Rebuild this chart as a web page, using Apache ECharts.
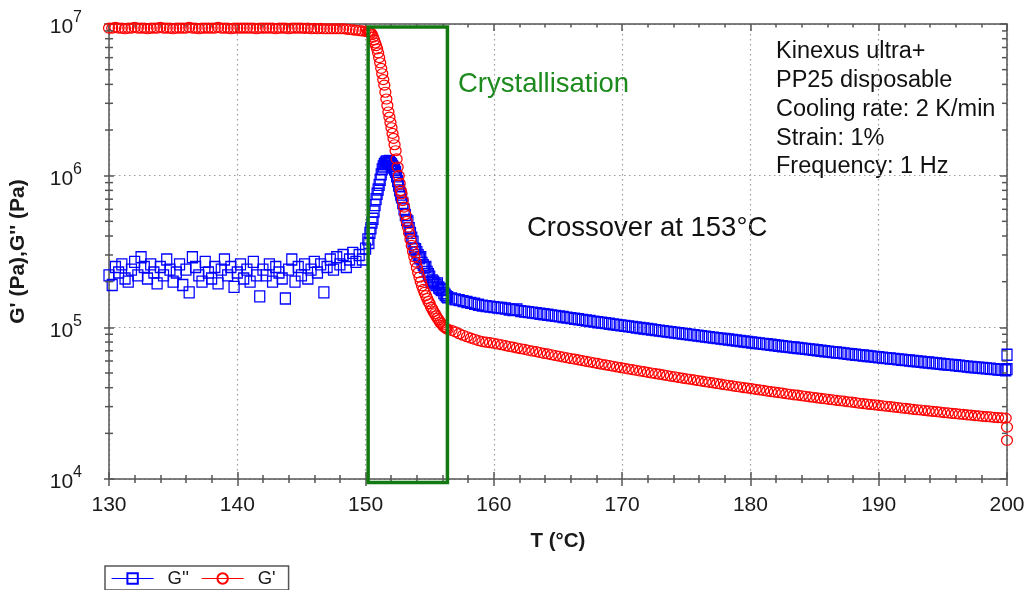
<!DOCTYPE html>
<html>
<head>
<meta charset="utf-8">
<title>Oscillatory cooling ramp – PP25</title>
<script src="https://cdn.jsdelivr.net/npm/echarts@6/dist/echarts.min.js"></script>
<style>
  html, body { margin: 0; padding: 0; background: #fff; }
  #chart { width: 1031px; height: 590px; }
</style>
</head>
<body>
<div id="chart"></div>
<script>
// Temperature of each measured point (°C); the run cools from 200 °C down to 130 °C.
const temperatureC = [
  130.0,130.25,130.5,130.75,131.0,131.25,131.5,131.75,132.0,132.25,
  132.5,132.75,133.0,133.25,133.5,133.75,134.0,134.25,134.5,134.75,
  135.0,135.25,135.5,135.75,136.0,136.25,136.5,136.75,137.0,137.25,
  137.5,137.75,138.0,138.25,138.5,138.75,139.0,139.25,139.5,139.75,
  140.0,140.25,140.5,140.75,141.0,141.25,141.5,141.75,142.0,142.25,
  142.5,142.75,143.0,143.25,143.5,143.75,144.0,144.25,144.5,144.75,
  145.0,145.25,145.5,145.75,146.0,146.25,146.5,146.75,147.0,147.25,
  147.5,147.75,148.0,148.25,148.5,148.75,149.0,149.25,149.5,149.75,
  150.0,
  150.18,150.26,150.34,150.42,150.5,150.58,150.66,150.74,150.82,150.9,
  150.98,151.06,151.14,151.22,151.3,151.38,151.46,151.54,151.62,151.7,
  151.78,151.86,151.94,152.02,152.1,152.18,152.26,152.34,152.42,152.5,
  152.58,152.66,152.74,
  152.8,152.9,153.0,153.1,153.2,153.3,153.4,153.5,153.6,153.7,
  153.8,153.9,154.0,154.1,154.2,154.3,154.4,154.5,154.6,154.7,
  154.8,154.9,155.0,155.1,155.2,155.3,155.4,155.5,155.6,155.7,
  155.8,155.9,156.0,156.1,156.2,156.3,156.4,
  156.7,157.0,157.3,157.6,157.9,158.2,158.5,158.8,159.1,159.4,159.7,
  160.0,160.3,160.6,160.9,161.2,161.5,161.8,162.1,162.4,162.7,
  163.0,163.3,163.6,163.9,164.2,164.5,164.8,165.1,165.4,165.7,
  166.0,166.3,166.6,166.9,167.2,167.5,167.8,168.1,168.4,168.7,
  169.0,169.3,169.6,169.9,170.2,170.5,170.8,171.1,171.4,171.7,
  172.0,172.3,172.6,172.9,173.2,173.5,173.8,174.1,174.4,174.7,
  175.0,175.3,175.6,175.9,176.2,176.5,176.8,177.1,177.4,177.7,
  178.0,178.3,178.6,178.9,179.2,179.5,179.8,180.1,180.4,180.7,
  181.0,181.3,181.6,181.9,182.2,182.5,182.8,183.1,183.4,183.7,
  184.0,184.3,184.6,184.9,185.2,185.5,185.8,186.1,186.4,186.7,
  187.0,187.3,187.6,187.9,188.2,188.5,188.8,189.1,189.4,189.7,
  190.0,190.3,190.6,190.9,191.2,191.5,191.8,192.1,192.4,192.7,
  193.0,193.3,193.6,193.9,194.2,194.5,194.8,195.1,195.4,195.7,
  196.0,196.3,196.6,196.9,197.2,197.5,197.8,198.1,198.4,198.7,
  199.0,199.3,199.6,199.9,200.0,200.0
];

// Storage modulus G' (Pa)
const gPrime = [
  9.4e6,9.4e6,9.5e6,9.4e6,9.4e6,9.3e6,9.4e6,9.4e6,9.5e6,9.4e6,
  9.4e6,9.4e6,9.3e6,9.4e6,9.4e6,9.4e6,9.5e6,9.4e6,9.4e6,9.4e6,
  9.3e6,9.4e6,9.4e6,9.4e6,9.4e6,9.5e6,9.4e6,9.4e6,9.3e6,9.4e6,
  9.4e6,9.4e6,9.4e6,9.4e6,9.5e6,9.4e6,9.4e6,9.4e6,9.3e6,9.4e6,
  9.4e6,9.4e6,9.4e6,9.4e6,9.4e6,9.4e6,9.3e6,9.4e6,9.4e6,9.4e6,
  9.4e6,9.4e6,9.3e6,9.4e6,9.4e6,9.4e6,9.3e6,9.4e6,9.4e6,9.4e6,
  9.4e6,9.35e6,9.4e6,9.3e6,9.35e6,9.3e6,9.35e6,9.3e6,9.3e6,9.3e6,
  9.3e6,9.3e6,9.3e6,9.3e6,9.25e6,9.2e6,9.15e6,9.1e6,9.05e6,9.0e6,
  8.95e6,
  8.9e6,8.9e6,8.8e6,8.7e6,8.5e6,8.2e6,7.85e6,7.5e6,7.2e6,6.85e6,
  6.45e6,6.0e6,5.55e6,5.1e6,4.7e6,4.3e6,3.95e6,3.55e6,3.2e6,2.9e6,
  2.63e6,2.43e6,2.24e6,2.07e6,1.9e6,1.76e6,1.6e6,1.46e6,1.29e6,1.14e6,
  1.0e6,8.9e5,8.0e5,
  7.6e5,6.85e5,6.2e5,5.55e5,5.0e5,4.57e5,4.17e5,3.8e5,3.47e5,3.16e5,
  2.92e5,2.69e5,2.48e5,2.29e5,2.14e5,2.0e5,1.88e5,1.78e5,1.7e5,1.62e5,
  1.55e5,1.48e5,1.43e5,1.36e5,1.32e5,1.27e5,1.23e5,1.19e5,1.15e5,1.12e5,
  1.08e5,1.06e5,1.035e5,1.01e5,9.95e4,9.8e4,9.7e4,
  9.55e4,9.33e4,9.08e4,8.87e4,8.67e4,8.49e4,8.34e4,8.18e4,8.05e4,7.98e4,7.92e4,
  7.85e4,7.76e4,7.68e4,7.58e4,7.48e4,7.41e4,7.31e4,7.23e4,7.15e4,7.06e4,
  6.98e4,6.91e4,6.82e4,6.74e4,6.68e4,6.59e4,6.52e4,6.45e4,6.37e4,6.30e4,
  6.23e4,6.17e4,6.10e4,6.03e4,5.96e4,5.91e4,5.84e4,5.78e4,5.71e4,5.66e4,
  5.60e4,5.54e4,5.48e4,5.43e4,5.37e4,5.31e4,5.26e4,5.21e4,5.15e4,5.11e4,
  5.05e4,5.00e4,4.95e4,4.91e4,4.86e4,4.81e4,4.76e4,4.72e4,4.67e4,4.63e4,
  4.58e4,4.55e4,4.50e4,4.46e4,4.42e4,4.38e4,4.34e4,4.30e4,4.26e4,4.22e4,
  4.18e4,4.15e4,4.11e4,4.07e4,4.04e4,4.00e4,3.97e4,3.94e4,3.90e4,3.87e4,
  3.84e4,3.80e4,3.77e4,3.74e4,3.71e4,3.68e4,3.65e4,3.62e4,3.59e4,3.57e4,
  3.54e4,3.51e4,3.48e4,3.46e4,3.43e4,3.40e4,3.38e4,3.35e4,3.33e4,3.30e4,
  3.28e4,3.26e4,3.23e4,3.21e4,3.19e4,3.16e4,3.14e4,3.12e4,3.10e4,3.08e4,
  3.06e4,3.04e4,3.02e4,3.00e4,2.98e4,2.96e4,2.94e4,2.92e4,2.90e4,2.88e4,
  2.86e4,2.85e4,2.83e4,2.81e4,2.79e4,2.78e4,2.76e4,2.74e4,2.73e4,2.71e4,
  2.70e4,2.68e4,2.67e4,2.65e4,2.64e4,2.62e4,2.61e4,2.59e4,2.58e4,2.57e4,
  2.55e4,2.54e4,2.53e4,2.52e4,2.2e4,1.8e4
];

// Loss modulus G'' (Pa)
const gDoublePrime = [
  2.2e5,1.9e5,2.5e5,2.3e5,2.6e5,2.1e5,2.0e5,2.4e5,2.7e5,2.2e5,
  2.9e5,2.5e5,2.1e5,2.6e5,2.3e5,1.95e5,2.5e5,2.2e5,2.8e5,2.4e5,
  2.0e5,2.3e5,2.6e5,1.9e5,2.4e5,1.7e5,2.9e5,2.5e5,2.2e5,2.0e5,
  2.7e5,2.3e5,2.1e5,2.5e5,1.95e5,2.4e5,2.8e5,2.2e5,2.5e5,1.85e5,
  2.3e5,2.6e5,2.1e5,2.4e5,2.0e5,2.7e5,2.2e5,1.6e5,2.4e5,2.2e5,
  2.6e5,2.0e5,2.5e5,2.3e5,2.1e5,1.55e5,2.4e5,2.8e5,2.0e5,2.5e5,
  2.2e5,2.6e5,2.1e5,2.4e5,2.7e5,2.3e5,2.6e5,1.7e5,2.5e5,2.8e5,
  2.4e5,2.9e5,2.6e5,3.0e5,2.5e5,2.8e5,3.1e5,2.7e5,3.0e5,2.8e5,
  3.3e5,
  3.8e5,3.6e5,4.2e5,4.5e5,4.9e5,5.2e5,5.8e5,6.4e5,7.0e5,7.6e5,
  8.1e5,8.7e5,9.4e5,1.02e6,1.1e6,1.15e6,1.19e6,1.22e6,1.24e6,1.2e6,
  1.23e6,1.25e6,1.21e6,1.19e6,1.16e6,1.13e6,1.1e6,1.06e6,9.9e5,9.2e5,
  8.6e5,8.0e5,7.5e5,
  7.2e5,6.6e5,6.0e5,5.5e5,5.1e5,5.0e5,4.5e5,4.2e5,3.9e5,3.67e5,
  3.3e5,3.27e5,3.13e5,2.99e5,2.85e5,2.9e5,2.66e5,2.57e5,2.48e5,2.5e5,
  2.32e5,2.24e5,2.16e5,2.0e5,2.04e5,2.0e5,1.95e5,1.9e5,1.95e5,1.83e5,
  1.8e5,1.76e5,1.78e5,1.68e5,1.64e5,1.6e5,1.58e5,
  1.55e5,1.53e5,1.51e5,1.49e5,1.47e5,1.45e5,1.43e5,1.41e5,1.39e5,1.38e5,1.37e5,
  1.36e5,1.35e5,1.34e5,1.33e5,1.31e5,1.30e5,1.31e5,1.28e5,1.27e5,1.26e5,
  1.25e5,1.24e5,1.23e5,1.22e5,1.21e5,1.20e5,1.19e5,1.18e5,1.17e5,1.16e5,
  1.15e5,1.14e5,1.13e5,1.12e5,1.11e5,1.10e5,1.09e5,1.08e5,1.073e5,1.065e5,
  1.056e5,1.047e5,1.039e5,1.03e5,1.022e5,1.014e5,1.006e5,9.98e4,9.9e4,9.82e4,
  9.75e4,9.67e4,9.59e4,9.52e4,9.45e4,9.37e4,9.3e4,9.23e4,9.16e4,9.09e4,
  9.02e4,8.95e4,8.88e4,8.82e4,8.75e4,8.69e4,8.62e4,8.56e4,8.49e4,8.43e4,
  8.37e4,8.31e4,8.25e4,8.19e4,8.13e4,8.07e4,8.01e4,7.95e4,7.89e4,7.84e4,
  7.78e4,7.73e4,7.67e4,7.62e4,7.56e4,7.51e4,7.46e4,7.41e4,7.36e4,7.31e4,
  7.26e4,7.21e4,7.16e4,7.11e4,7.06e4,7.01e4,6.96e4,6.92e4,6.87e4,6.83e4,
  6.78e4,6.73e4,6.69e4,6.64e4,6.6e4,6.56e4,6.52e4,6.47e4,6.43e4,6.39e4,
  6.35e4,6.31e4,6.27e4,6.23e4,6.19e4,6.15e4,6.11e4,6.08e4,6.04e4,6.0e4,
  5.96e4,5.93e4,5.89e4,5.86e4,5.82e4,5.79e4,5.75e4,5.71e4,5.68e4,5.65e4,
  5.62e4,5.58e4,5.55e4,5.51e4,5.48e4,5.45e4,5.42e4,5.39e4,5.36e4,5.33e4,
  5.30e4,5.27e4,5.24e4,5.21e4,5.3e4,6.6e4
];

// Axis ranges and minor (log) tick values
const tempRange = [130, 200];
const modulusRange = [1e4, 1e7];
const logMinorTicks = [
  2e4,3e4,4e4,5e4,6e4,7e4,8e4,9e4,
  2e5,3e5,4e5,5e5,6e5,7e5,8e5,9e5,
  2e6,3e6,4e6,5e6,6e6,7e6,8e6,9e6
];

// Crystallisation window, in data units: [T start, G bottom, T end, G top]
const crystallisationBox = [150.2, 9.5e3, 156.38, 9.55e6];

// Annotation texts
const infoLines = ['Kinexus ultra+', 'PP25 disposable', 'Cooling rate: 2 K/min', 'Strain: 1%', 'Frequency: 1 Hz'];
const crystallisationLabel = 'Crystallisation';
const crossoverLabel = 'Crossover at 153°C';

const FONT = '"Liberation Sans", Arial, sans-serif';
const AXIS_COLOR = '#555';
const axisLine = { show: true, onZero: false, lineStyle: { color: AXIS_COLOR, width: 1.5 } };
const tickLine = { color: AXIS_COLOR, width: 1.5 };
const gridDots = { color: '#9a9a9a', width: 1.2, type: [1.5, 3.5] };

const pairs = (xs, ys) => xs.map((x, i) => [x, ys[i]]);

const chart = echarts.init(document.getElementById('chart'), null, { renderer: 'canvas' });

const xBase = { type: 'value', min: tempRange[0], max: tempRange[1], interval: 10, gridIndex: 0 };
const yBase = { type: 'log', logBase: 10, min: modulusRange[0], max: modulusRange[1], gridIndex: 0 };

chart.setOption({
  animation: false,
  backgroundColor: '#fff',
  grid: { left: 105, right: 24, top: 24, bottom: 111, containLabel: false },
  xAxis: [
    Object.assign({}, xBase, {
      position: 'bottom',
      axisLine,
      axisTick: { show: true, inside: false, length: 7, lineStyle: tickLine },
      minorTick: { show: true, splitNumber: 5, length: 4, lineStyle: tickLine },
      axisLabel: { show: true, fontSize: 21, color: '#1a1a1a', fontFamily: FONT, margin: 16 },
      splitLine: { show: true, lineStyle: gridDots },
      name: 'T (°C)', nameLocation: 'middle', nameGap: 52,
      nameTextStyle: { fontSize: 20.5, fontWeight: 'bold', color: '#1a1a1a', fontFamily: FONT }
    }),
    Object.assign({}, xBase, {
      position: 'bottom',
      axisLine: { show: false, onZero: false },
      axisTick: { show: true, inside: true, length: 7, lineStyle: tickLine },
      minorTick: { show: true, splitNumber: 5, length: 4, lineStyle: tickLine },
      axisLabel: { show: false }, splitLine: { show: false }
    }),
    Object.assign({}, xBase, {
      position: 'top',
      axisLine,
      axisTick: { show: true, inside: true, length: 7, lineStyle: tickLine },
      minorTick: { show: true, splitNumber: 5, length: 3.5, lineStyle: tickLine },
      axisLabel: { show: false }, splitLine: { show: false }
    })
  ],
  yAxis: [
    Object.assign({}, yBase, {
      position: 'left',
      axisLine,
      axisTick: { show: true, inside: false, length: 5, lineStyle: tickLine },
      axisLabel: {
        show: true, margin: 27,
        formatter: v => '{b|10}{s|' + Math.round(Math.log10(v)) + '}',
        rich: {
          b: { fontSize: 21, color: '#1a1a1a', fontFamily: FONT, lineHeight: 28, verticalAlign: 'bottom' },
          s: { fontSize: 16, color: '#1a1a1a', fontFamily: FONT, lineHeight: 15, verticalAlign: 'top' }
        }
      },
      splitLine: { show: true, lineStyle: gridDots },
      name: "G' (Pa),G'' (Pa)", nameLocation: 'middle', nameGap: 80, nameRotate: 90,
      nameTextStyle: { fontSize: 21, fontWeight: 'bold', color: '#1a1a1a', fontFamily: FONT }
    }),
    Object.assign({}, yBase, {
      position: 'left',
      axisLine: { show: false, onZero: false },
      axisTick: { show: true, inside: true, length: 5, lineStyle: tickLine },
      axisLabel: { show: false }, splitLine: { show: false }
    }),
    Object.assign({}, yBase, {
      position: 'right',
      axisLine,
      axisTick: { show: true, inside: true, length: 7, lineStyle: tickLine },
      axisLabel: { show: false }, splitLine: { show: false }
    })
  ],
  legend: {
    left: 105, top: 566, orient: 'horizontal',
    itemWidth: 42, itemHeight: 13, itemGap: 12,
    padding: [3, 13, 2, 6],
    borderColor: AXIS_COLOR, borderWidth: 1.5,
    textStyle: { fontSize: 18.5, color: '#1a1a1a', fontFamily: FONT, padding: [0, 0, 0, 9] },
    data: [
      { name: "G''", lineStyle: { color: '#0000ff', width: 1.2, opacity: 1 } },
      { name: "G'", lineStyle: { color: '#ff0000', width: 1.2, opacity: 1 } }
    ]
  },
  series: [
    {
      name: "G''", type: 'line', xAxisIndex: 0, yAxisIndex: 0,
      data: pairs(temperatureC, gDoublePrime),
      symbol: 'rect', symbolSize: [10, 11], showAllSymbol: true, clip: false,
      lineStyle: { width: 0, opacity: 0 },
      itemStyle: { color: 'rgba(0,0,0,0)', borderColor: '#0000ff', borderWidth: 1.3 },
      emphasis: { disabled: true }
    },
    {
      name: "G'", type: 'line', xAxisIndex: 0, yAxisIndex: 0,
      data: pairs(temperatureC, gPrime),
      symbol: 'circle', symbolSize: [11, 10], showAllSymbol: true, clip: false,
      lineStyle: { width: 0, opacity: 0 },
      itemStyle: { color: 'rgba(0,0,0,0)', borderColor: '#ff0000', borderWidth: 1.2 },
      emphasis: { disabled: true }
    },
    {
      // logarithmic minor ticks on the left (crossing) and right (inside) axes
      type: 'custom', xAxisIndex: 0, yAxisIndex: 0, silent: true, clip: false,
      data: logMinorTicks.map(v => [tempRange[0], v]),
      renderItem: (params, api) => {
        const v = api.value(1);
        const l = api.coord([tempRange[0], v]);
        const r = api.coord([tempRange[1], v]);
        return {
          type: 'group',
          children: [
            { type: 'line', shape: { x1: l[0] - 4, y1: l[1], x2: l[0] + 4, y2: l[1] }, style: { stroke: AXIS_COLOR, lineWidth: 1.5 } },
            { type: 'line', shape: { x1: r[0] - 5, y1: r[1], x2: r[0], y2: r[1] }, style: { stroke: AXIS_COLOR, lineWidth: 1.5 } }
          ]
        };
      },
      z: 5
    },
    {
      // crystallisation window
      type: 'custom', xAxisIndex: 0, yAxisIndex: 0, silent: true, clip: false,
      data: [crystallisationBox],
      encode: { x: [0, 2], y: [1, 3] },
      renderItem: (params, api) => {
        const p0 = api.coord([api.value(0), api.value(3)]);
        const p1 = api.coord([api.value(2), api.value(1)]);
        return {
          type: 'rect',
          shape: { x: p0[0], y: p0[1], width: p1[0] - p0[0], height: p1[1] - p0[1] },
          style: { fill: 'none', stroke: '#137a13', lineWidth: 3.5 }
        };
      },
      z: 10
    }
  ],
  graphic: [
    {
      type: 'text', x: 458, y: 84, silent: true,
      style: { text: crystallisationLabel, fill: '#1d8a1d', fontSize: 27.5, fontFamily: FONT, verticalAlign: 'middle' }
    },
    {
      type: 'text', x: 527, y: 228, silent: true,
      style: { text: crossoverLabel, fill: '#111', fontSize: 27.5, fontFamily: FONT, verticalAlign: 'middle' }
    }
  ].concat(infoLines.map((t, i) => ({
    type: 'text', x: 776, y: 52 + i * 28.7, silent: true,
    style: { text: t, fill: '#111', fontSize: 23.5, fontFamily: FONT, verticalAlign: 'middle' }
  })))
});
</script>
</body>
</html>
